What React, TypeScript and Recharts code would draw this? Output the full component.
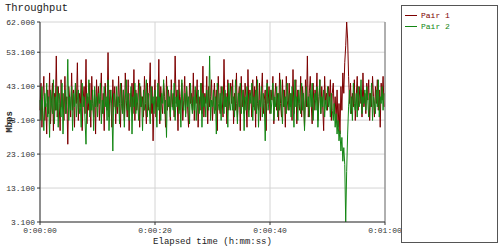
import {
  CartesianGrid,
  Line,
  LineChart,
  ReferenceLine,
  XAxis,
  YAxis,
} from "recharts";

// one sample every 1/6 s, 0 .. 59.83 s
const pair1 = [
  36, 44, 31, 40, 46, 33, 38, 29, 42, 35, 47, 32, 39, 44, 30, 41, 36, 52, 34, 43,
  38, 30, 45, 37, 41, 33, 46, 35, 40, 26, 43, 39, 34, 47, 36, 42, 31, 44, 38, 50,
  33, 41, 37, 45, 30, 39, 43, 35, 51, 32, 40, 36, 44, 31, 46, 38, 34, 42, 29, 45,
  37, 43, 33, 40, 47, 35, 41, 30, 44, 38, 36, 53, 34, 42, 39, 31, 45, 37, 43, 32,
  40, 35, 46, 38, 31, 44, 36, 42, 33, 47, 39, 34, 45, 30, 41, 37, 44, 35, 48, 33,
  42, 36, 39, 45, 31, 43, 37, 40, 34, 46, 38, 32, 44, 36, 41, 50, 35, 43, 27, 39,
  45, 34, 40, 37, 51, 32, 43, 38, 35, 44, 40, 31, 46, 36, 42, 39, 33, 45, 37, 41,
  34, 52, 38, 42, 30, 45, 36, 40, 44, 33, 39, 46, 35, 43, 37, 31, 44, 38, 41, 36,
  47, 33, 42, 38, 45, 31, 40, 36, 44, 35, 49, 34, 41, 38, 46, 32, 43, 37, 40, 45,
  33, 39, 44, 36, 42, 30, 46, 38, 35, 43, 40, 34, 51, 37, 41, 32, 45, 36, 39, 44,
  38, 45, 32, 41, 36, 47, 34, 40, 43, 30, 46, 37, 42, 35, 44, 39, 31, 48, 36, 42,
  40, 34, 45, 37, 43, 31, 46, 38, 36, 44, 33, 41, 47, 35, 39, 42, 30, 45, 38, 43,
  35, 42, 39, 46, 32, 40, 44, 36, 41, 33, 47, 38, 34, 45, 37, 42, 31, 46, 39, 36,
  44, 37, 41, 33, 48, 35, 40, 45, 32, 42, 38, 36, 46, 34, 43, 39, 31, 45, 37, 52,
  34, 41, 46, 38, 32, 44, 36, 42, 39, 47, 33, 40, 45, 35, 43, 37, 30, 46, 38, 41,
  36, 43, 39, 45, 33, 41, 44, 35, 40, 33, 42, 31, 38, 29, 43, 36, 47, 41, 50, 55,
  62, 57, 46, 38, 44, 35, 41, 37, 45, 33, 40, 46, 36, 43, 38, 42, 34, 47, 37, 41,
  35, 44, 39, 45, 33, 41, 37, 46, 40, 34, 43, 38, 45, 36, 42, 31, 44, 39, 46, 37,
];

const pair2 = [
  39, 33, 43, 36, 30, 41, 37, 44, 34, 40, 28, 42, 38, 35, 45, 32, 40, 36, 43, 31,
  41, 37, 34, 44, 29, 39, 42, 35, 38, 51, 33, 40, 36, 43, 30, 41, 37, 44, 34, 39,
  42, 35, 38, 31, 44, 37, 40, 33, 26, 41, 38, 45, 34, 39, 36, 42, 30, 43, 37, 40,
  34, 41, 38, 44, 32, 39, 35, 43, 37, 40, 33, 45, 30, 38, 42, 36, 24, 41, 39, 35,
  43, 37, 40, 32, 44, 38, 35, 42, 31, 39, 45, 36, 41, 33, 38, 43, 29, 40, 37, 44,
  35, 41, 38, 33, 44, 37, 40, 30, 42, 36, 39, 45, 34, 41, 37, 32, 43, 38, 40, 35,
  42, 38, 31, 44, 36, 40, 33, 41, 38, 45, 35, 39, 28, 43, 37, 40, 34, 42, 38, 36,
  44, 33, 40, 37, 42, 35, 39, 31, 45, 38, 36, 41, 34, 43, 37, 40, 32, 44, 38, 35,
  40, 36, 43, 33, 39, 42, 35, 38, 44, 31, 41, 37, 40, 34, 42, 38, 36, 52, 33, 39,
  37, 42, 35, 40, 29, 44, 38, 36, 41, 33, 43, 39, 35, 42, 37, 40, 31, 44, 38, 36,
  43, 36, 40, 34, 45, 38, 32, 41, 37, 44, 35, 39, 42, 30, 40, 36, 43, 38, 34, 41,
  38, 44, 33, 40, 36, 42, 35, 45, 31, 39, 37, 43, 34, 41, 38, 27, 40, 44, 36, 39,
  42, 35, 39, 44, 33, 40, 37, 43, 34, 41, 36, 45, 38, 32, 42, 37, 40, 35, 44, 38,
  36, 41, 34, 43, 39, 31, 45, 37, 40, 33, 42, 38, 35, 44, 36, 41, 30, 39, 43, 37,
  40, 34, 42, 37, 44, 33, 39, 41, 36, 43, 31, 38, 45, 35, 40, 37, 42, 34, 39, 36,
  43, 37, 40, 34, 41, 36, 33, 38, 31, 35, 29, 33, 27, 30, 24, 28, 21, 25, 20, 3.1,
  18, 29, 37, 42, 35, 40, 33, 44, 38, 36, 41, 34, 43, 37, 39, 45, 35, 40, 38, 42,
  36, 43, 39, 34, 41, 37, 44, 33, 40, 38, 35, 42, 37, 45, 34, 40, 38, 43, 36, 41,
];

const yTicks = [3.1, 13.1, 23.1, 33.1, 43.1, 53.1, 62];
const xTicks = [0, 20, 40, 60];
const xTickLabels = ["0:00:00", "0:00:20", "0:00:40", "0:01:00"];
const seriesNames = ["Pair 1", "Pair 2"];
const seriesColors = ["#7d0000", "#138613"];

const data = pair1.map((v, i) => ({
  t: i / 6,
  pair1: v,
  pair2: pair2[i],
}));

const tickStyle = {
  fill: "#333",
  fontSize: 8,
  fontFamily: "Liberation Mono",
};

function LegendBox() {
  return (
    <div
      style={{
        position: "absolute",
        left: 401,
        top: 5,
        width: 97,
        height: 238,
        border: "1px solid #555",
        background: "#fff",
        boxSizing: "border-box",
        paddingTop: 4,
      }}
    >
      {seriesNames.map((name, i) => (
        <div
          key={name}
          style={{
            display: "flex",
            alignItems: "center",
            height: 11,
            paddingLeft: 3,
          }}
        >
          <span
            style={{
              display: "inline-block",
              width: 12,
              height: 1,
              background: seriesColors[i],
              marginRight: 4,
            }}
          />
          <span
            style={{
              fontSize: 8,
              fontFamily: "Liberation Mono",
              color: seriesColors[i],
            }}
          >
            {name}
          </span>
        </div>
      ))}
    </div>
  );
}

export default function App() {
  return (
    <div
      style={{
        position: "fixed",
        left: 0,
        top: 0,
        width: 500,
        height: 249,
        background: "#fff",
      }}
    >
      <div
        style={{
          position: "absolute",
          left: 5,
          top: 2,
          fontSize: 10.5,
          fontFamily: "Liberation Mono",
          color: "#222",
        }}
      >
        Throughput
      </div>
      <div
        style={{
          position: "absolute",
          left: 10,
          top: 122,
          transform: "translate(-50%, -50%) rotate(-90deg)",
          fontSize: 9,
          fontWeight: "bold",
          fontFamily: "Liberation Mono",
          color: "#222",
        }}
      >
        Mbps
      </div>
      <LineChart
        width={500}
        height={249}
        data={data}
        margin={{
          top: 22,
          right: 115,
          bottom: 0,
          left: 0,
        }}
      >
        <CartesianGrid stroke="#d4d4d4" />

        <XAxis
          dataKey="t"
          type="number"
          domain={[0, 60]}
          ticks={xTicks}
          tickFormatter={(v) => xTickLabels[xTicks.indexOf(v)]}
          tick={tickStyle}
          tickSize={3}
          tickLine={{ stroke: "#333" }}
          axisLine={{ stroke: "#333" }}
          height={27}
          label={{
            value: "Elapsed time (h:mm:ss)",
            position: "insideBottom",
            offset: 5,
            style: {
              fill: "#222",
              fontSize: 9,
              fontFamily: "Liberation Mono",
            },
          }}
        />

        <YAxis
          type="number"
          domain={[3.1, 62]}
          ticks={yTicks}
          tickFormatter={(v) => Number(v).toFixed(3)}
          tick={tickStyle}
          tickSize={3}
          tickLine={{ stroke: "#333" }}
          axisLine={{ stroke: "#333" }}
          width={40}
        />

        <ReferenceLine x={60} stroke="#777" />

        <Line
          dataKey="pair1"
          stroke={seriesColors[0]}
          strokeWidth={1}
          dot={false}
          isAnimationActive={false}
        />
        <Line
          dataKey="pair2"
          stroke={seriesColors[1]}
          strokeWidth={1}
          dot={false}
          isAnimationActive={false}
        />
      </LineChart>
      <LegendBox />
    </div>
  );
}
